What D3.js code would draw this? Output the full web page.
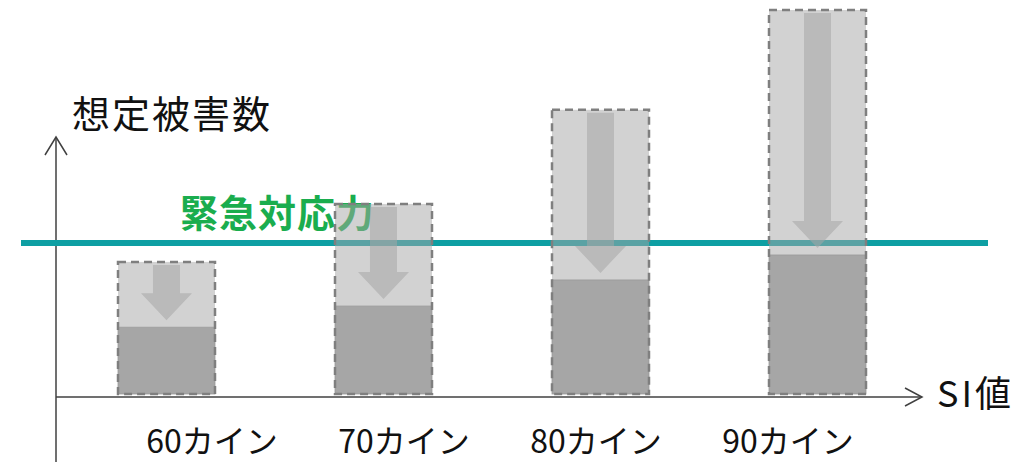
<!DOCTYPE html>
<html>
<head>
<meta charset="utf-8">
<script src="https://cdn.jsdelivr.net/npm/d3@7"></script>
<style>
  html, body { margin: 0; padding: 0; background: #fff; }
  svg { display: block; font-family: "Noto Sans CJK JP", "Noto Sans", sans-serif; }
</style>
</head>
<body>
<svg id="chart" width="1031" height="462"></svg>
<script>
// SI value categories and estimated damage (relative units)
const categories = ["60カイン", "70カイン", "80カイン", "90カイン"];
const potentialDamage = [34.4, 49.5, 74.0, 100];   // before mitigation (dashed box)
const reducedDamage   = [17.4, 22.9, 29.7, 36.2];  // after mitigation (solid part)
const responseCapacity = 39.3;                      // emergency response capacity

const yTitle = "想定被害数";
const xTitle = "SI値";
const capacityLabel = "緊急対応力";

const svg = d3.select("#chart");

const x = d3.scaleBand().domain(categories).range([118, 866]).paddingInner(0.553).paddingOuter(0);
const xLabel = d3.scalePoint().domain(categories).range([212, 788]);
const y = d3.scaleLinear().domain([0, 100]).range([394, 10]);

const axisY = y(0) + 3;
const axisX = 56;
const axisColor = "#404040";

// axes with open arrowheads
svg.append("line").attr("x1", axisX).attr("x2", axisX).attr("y1", 137).attr("y2", 462)
  .attr("stroke", axisColor).attr("stroke-width", 1.5);
svg.append("path").attr("d", `M${axisX - 11},155 L${axisX},137 L${axisX + 11},155`)
  .attr("fill", "none").attr("stroke", axisColor).attr("stroke-width", 1.5);
svg.append("line").attr("x1", axisX).attr("x2", 922).attr("y1", axisY).attr("y2", axisY)
  .attr("stroke", axisColor).attr("stroke-width", 1.5);
svg.append("path").attr("d", `M905,${axisY - 9} L922,${axisY} L905,${axisY + 9}`)
  .attr("fill", "none").attr("stroke", axisColor).attr("stroke-width", 1.5);

svg.append("text").attr("x", 72).attr("y", 128).attr("font-size", 38)
  .attr("letter-spacing", 2).attr("fill", "#111").text(yTitle);
svg.append("text").attr("x", 937).attr("y", 407).attr("font-size", 36)
  .attr("letter-spacing", 3).attr("fill", "#111").text(xTitle);

// emergency response capacity label and line
svg.append("text").attr("x", 180).attr("y", 227).attr("font-size", 38)
  .attr("font-weight", "bold").attr("letter-spacing", 1).attr("fill", "#1aad4e").text(capacityLabel);
svg.append("line").attr("x1", 21).attr("x2", 988)
  .attr("y1", y(responseCapacity)).attr("y2", y(responseCapacity))
  .attr("stroke", "#0e9fa3").attr("stroke-width", 6);

const rows = categories.map((c, i) => ({ c, top: potentialDamage[i], low: reducedDamage[i] }));
const g = svg.append("g").selectAll("g").data(rows).join("g");

// translucent potential-damage box
g.append("rect")
  .attr("x", d => x(d.c)).attr("width", x.bandwidth())
  .attr("y", d => y(d.top)).attr("height", d => y(d.low) - y(d.top))
  .attr("fill", "#a6a6a6").attr("fill-opacity", 0.5);

// solid reduced-damage part
g.append("rect")
  .attr("x", d => x(d.c)).attr("width", x.bandwidth())
  .attr("y", d => y(d.low)).attr("height", d => y(0) - y(d.low))
  .attr("fill", "#a6a6a6").attr("stroke", "#999").attr("stroke-width", 0.8);

// downward arrow showing the reduction
const shaftW = 27, headW = 51, headL = 27;
g.append("path")
  .attr("d", d => {
    const cx = x(d.c) + x.bandwidth() / 2;
    const t = y(d.top) + 3;
    const tip = y(d.low) - 7;
    const hb = tip - headL;
    return `M${cx - shaftW / 2},${t} L${cx + shaftW / 2},${t} L${cx + shaftW / 2},${hb} ` +
      `L${cx + headW / 2},${hb} L${cx},${tip} L${cx - headW / 2},${hb} L${cx - shaftW / 2},${hb} Z`;
  })
  .attr("fill", "#a6a6a6").attr("fill-opacity", 0.55);

// dashed outline of the whole box
g.append("rect")
  .attr("x", d => x(d.c)).attr("width", x.bandwidth())
  .attr("y", d => y(d.top)).attr("height", d => y(0) - y(d.top))
  .attr("fill", "none").attr("stroke", "#7f7f7f").attr("stroke-width", 2.5)
  .attr("stroke-dasharray", "8,5");

// category labels
svg.append("g").selectAll("text").data(categories).join("text")
  .attr("x", d => xLabel(d)).attr("y", 453).attr("text-anchor", "middle")
  .attr("font-size", 32).attr("fill", "#111").text(d => d);
</script>
</body>
</html>
